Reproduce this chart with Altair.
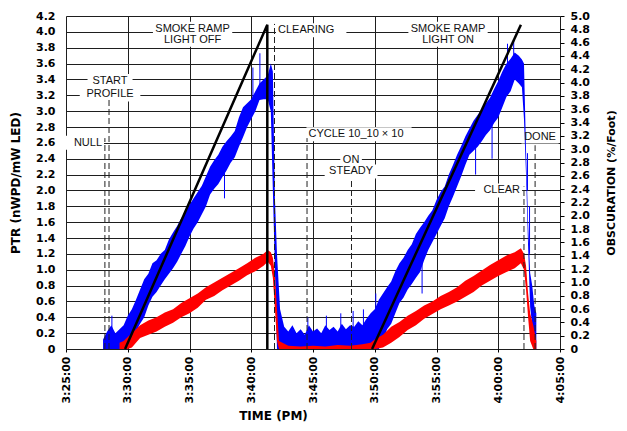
import altair as alt
import pandas as pd

W, H = 494, 333
T0 = 3 * 60 + 25  # minutes of 3:25 PM

def tmin(s):
    h, m, sec = (int(p) for p in s.split(":"))
    return h * 60 + m + sec / 60 - T0

# ---------------- PTR (blue) noisy band: time, low, high ----------------
blue_t = ["3:28:00", "3:28:20", "3:28:40", "3:29:00", "3:29:20", "3:29:40", "3:30:00", "3:30:20",
          "3:30:40", "3:31:00", "3:31:20", "3:31:40", "3:32:00", "3:32:20", "3:32:40", "3:33:00",
          "3:33:20", "3:33:40", "3:34:00", "3:34:20", "3:34:40", "3:35:00", "3:35:20", "3:35:40",
          "3:36:00", "3:36:20", "3:36:40", "3:37:00", "3:37:20", "3:37:40", "3:38:00", "3:38:20",
          "3:38:40", "3:39:00", "3:39:20", "3:39:40", "3:40:00", "3:40:20", "3:40:40", "3:41:00",
          "3:41:20", "3:41:35", "3:41:45", "3:41:55", "3:42:05", "3:42:20", "3:42:40", "3:43:00",
          "3:43:20", "3:43:40", "3:44:00", "3:44:20", "3:44:40", "3:45:00", "3:45:20", "3:45:40",
          "3:46:00", "3:46:20", "3:46:40", "3:47:00", "3:47:20", "3:47:40", "3:48:00", "3:48:20",
          "3:48:40", "3:49:00", "3:49:20", "3:49:40", "3:50:00", "3:50:20", "3:50:40", "3:51:00",
          "3:51:20", "3:51:40", "3:52:00", "3:52:20", "3:52:40", "3:53:00", "3:53:20", "3:53:40",
          "3:54:00", "3:54:20", "3:54:40", "3:55:00", "3:55:20", "3:55:40", "3:56:00", "3:56:20",
          "3:56:40", "3:57:00", "3:57:20", "3:57:40", "3:58:00", "3:58:20", "3:58:40", "3:59:00",
          "3:59:20", "3:59:40", "4:00:00", "4:00:20", "4:00:40", "4:01:00", "4:01:20", "4:01:40",
          "4:01:55", "4:02:05", "4:02:15", "4:02:25", "4:02:35", "4:02:45", "4:02:55", "4:03:05"]
blue_lo = [0.00, 0.00, 0.00, 0.00, 0.00, 0.00, 0.05, 0.15,
           0.22, 0.32, 0.40, 0.55, 0.66, 0.72, 0.80, 0.88,
           0.95, 1.02, 1.10, 1.20, 1.30, 1.42, 1.52, 1.60,
           1.70, 1.80, 1.95, 2.02, 2.08, 2.17, 2.25, 2.35,
           2.42, 2.55, 2.67, 2.80, 2.90, 3.00, 3.14, 3.15,
           3.15, 3.00, 2.00, 1.00, 0.00, 0.00, 0.00, 0.00,
           0.00, 0.00, 0.00, 0.00, 0.00, 0.00, 0.00, 0.00,
           0.00, 0.00, 0.00, 0.00, 0.00, 0.00, 0.00, 0.00,
           0.00, 0.00, 0.00, 0.00, 0.00, 0.00, 0.10, 0.25,
           0.32, 0.45, 0.58, 0.65, 0.75, 0.82, 0.90, 0.97,
           1.12, 1.25, 1.35, 1.45, 1.55, 1.65, 1.80, 1.92,
           2.05, 2.18, 2.32, 2.45, 2.50, 2.55, 2.62, 2.70,
           2.76, 2.85, 2.92, 3.05, 3.18, 3.25, 3.40, 3.35,
           3.30, 2.90, 2.20, 1.30, 0.53, 0.30, 0.00, 0.00]
blue_hi = [0.12, 0.22, 0.30, 0.20, 0.25, 0.30, 0.42, 0.50,
           0.62, 0.75, 0.88, 0.95, 1.08, 1.12, 1.20, 1.25,
           1.38, 1.47, 1.55, 1.65, 1.72, 1.82, 1.90, 1.98,
           2.06, 2.18, 2.30, 2.38, 2.45, 2.55, 2.62, 2.68,
           2.75, 2.92, 3.05, 3.10, 3.15, 3.25, 3.35, 3.40,
           3.45, 3.60, 3.50, 1.90, 1.20, 0.50, 0.28, 0.22,
           0.30, 0.20, 0.25, 0.18, 0.30, 0.22, 0.26, 0.20,
           0.30, 0.24, 0.28, 0.22, 0.32, 0.25, 0.30, 0.28,
           0.35, 0.30, 0.38, 0.45, 0.50, 0.62, 0.70, 0.78,
           0.85, 0.98, 1.08, 1.15, 1.25, 1.32, 1.45, 1.53,
           1.60, 1.68, 1.75, 1.88, 1.98, 2.05, 2.20, 2.32,
           2.45, 2.56, 2.68, 2.78, 2.88, 2.95, 3.02, 3.10,
           3.17, 3.28, 3.38, 3.50, 3.60, 3.66, 3.74, 3.70,
           3.65, 3.60, 2.50, 1.60, 0.96, 0.80, 0.55, 0.45]

# isolated blue spikes / outliers: time, low, high
spike_t = ["3:28:43", "3:37:50", "3:40:08", "3:40:42", "3:44:35", "3:46:05", "3:47:15", "3:48:15",
           "3:49:05", "3:50:05", "3:53:50", "3:58:10", "3:59:30", "4:00:45", "4:01:15", "4:02:22",
           "4:02:32"]
spike_lo = [0.00, 1.90, 3.00, 3.20, 0.00, 0.00, 0.00, 0.00,
            0.00, 0.00, 0.70, 2.20, 2.40, 3.30, 3.50, 2.00,
            1.20]
spike_hi = [0.42, 2.40, 3.55, 3.73, 0.40, 0.42, 0.45, 0.48,
            0.50, 0.70, 1.50, 2.90, 3.10, 3.85, 3.90, 2.47,
            1.80]

# ---------------- red band: time, low, high ----------------
red_t = ["3:29:20", "3:29:40", "3:30:00", "3:30:20", "3:30:40", "3:31:00", "3:31:40", "3:32:20",
         "3:33:00", "3:33:40", "3:34:20", "3:35:00", "3:35:40", "3:36:20", "3:37:00", "3:37:40",
         "3:38:20", "3:39:00", "3:39:40", "3:40:20", "3:41:00", "3:41:20", "3:41:35", "3:41:45",
         "3:41:55", "3:42:05", "3:42:15", "3:43:00", "3:44:00", "3:45:00", "3:46:00", "3:47:00",
         "3:48:00", "3:49:00", "3:49:40", "3:50:00", "3:50:40", "3:51:20", "3:52:00", "3:52:40",
         "3:53:20", "3:54:00", "3:54:40", "3:55:20", "3:56:00", "3:56:40", "3:57:20", "3:58:00",
         "3:58:40", "3:59:20", "4:00:00", "4:00:40", "4:01:20", "4:01:50", "4:02:05", "4:02:15",
         "4:02:25", "4:02:35", "4:02:50", "4:03:05"]
red_lo = [0.00, 0.00, 0.00, 0.02, 0.08, 0.14, 0.18, 0.22,
          0.28, 0.33, 0.40, 0.45, 0.52, 0.62, 0.67, 0.74,
          0.80, 0.86, 0.93, 0.98, 1.05, 1.10, 1.05, 0.90,
          0.50, 0.10, 0.00, 0.00, 0.00, 0.00, 0.00, 0.00,
          0.00, 0.00, 0.00, 0.00, 0.02, 0.08, 0.15, 0.24,
          0.30, 0.38, 0.44, 0.50, 0.55, 0.60, 0.66, 0.72,
          0.80, 0.86, 0.92, 0.97, 1.02, 1.08, 1.00, 0.75,
          0.40, 0.10, 0.00, 0.00]
red_hi = [0.08, 0.10, 0.15, 0.20, 0.25, 0.30, 0.36, 0.40,
          0.46, 0.50, 0.58, 0.64, 0.70, 0.78, 0.84, 0.90,
          0.96, 1.02, 1.08, 1.15, 1.20, 1.25, 1.22, 1.15,
          0.95, 0.50, 0.10, 0.04, 0.03, 0.04, 0.03, 0.05,
          0.04, 0.06, 0.08, 0.12, 0.18, 0.28, 0.34, 0.42,
          0.48, 0.55, 0.60, 0.67, 0.72, 0.78, 0.86, 0.92,
          0.99, 1.06, 1.12, 1.18, 1.22, 1.27, 1.20, 1.05,
          0.70, 0.45, 0.30, 0.10]

# ---------------- smoke ramp obscuration (black, right axis) ----------------
obs_t = ["3:29:47", "3:41:18", "3:41:18", "3:49:47", "4:01:50"]
obs_v = [0.0, 4.87, 0.0, 0.0, 4.87]
obs_seg = ["off", "off", "off", "on", "on"]

# ---------------- event markers (dashed) ----------------
mark_t = ["3:28:09", "3:28:29", "3:41:53", "3:44:31", "3:48:07", "4:02:05", "4:02:59"]
mark_top = [2.66, 3.15, 4.10, 2.66, 2.12, 2.05, 2.57]

# ---------------- annotation labels ----------------
lab_text = ["NULL", "START", "PROFILE", "SMOKE RAMP", "LIGHT OFF", "CLEARING", "CYCLE 10_10 \u00d7 10",
            "ON", "STEADY", "SMOKE RAMP", "LIGHT ON", "CLEAR", "DONE"]
lab_t = ["3:27:55", "3:28:34", "3:28:34", "3:35:15", "3:35:15", "3:42:10", "3:44:38",
         "3:48:05", "3:48:05", "3:55:56", "3:55:56", "4:01:46", "4:03:23"]
lab_v = [2.60, 3.38, 3.21, 4.04, 3.90, 4.02, 2.71, 2.39, 2.24, 4.04, 3.90, 2.00, 2.68]
lab_align = ["right", "center", "center", "center", "center", "left", "left",
             "center", "center", "center", "center", "right", "center"]

# ---------------- frames ----------------
PXM = W / 40.0
PXV = H / 4.2

def text_px(s):
    return sum(7.8 if c.isupper() else 3.1 if c == " " else 6.1 for c in s)

blue_df = pd.DataFrame({"m": [tmin(t) for t in blue_t], "lo": blue_lo, "hi": blue_hi})
spike_df = pd.DataFrame({"m": [tmin(t) for t in spike_t], "lo": spike_lo, "hi": spike_hi})
red_df = pd.DataFrame({"m": [tmin(t) for t in red_t], "lo": red_lo, "hi": red_hi})
obs_df = pd.DataFrame({"m": [tmin(t) for t in obs_t], "v": obs_v, "seg": obs_seg})
mark_df = pd.DataFrame({"m": [tmin(t) for t in mark_t], "lo": [0.0] * len(mark_t), "hi": mark_top})
lab_df = pd.DataFrame({"m": [tmin(t) for t in lab_t], "v": lab_v, "label": lab_text, "al": lab_align})

boxes = []
for s, m, v, al in zip(lab_text, lab_df["m"], lab_v, lab_align):
    w = text_px(s) + 6
    if al == "left":
        a, b = m - 2 / PXM, m + w / PXM
    elif al == "right":
        a, b = m - w / PXM, m + 2 / PXM
    else:
        a, b = m - w / 2 / PXM, m + w / 2 / PXM
    boxes.append({"x1": a, "x2": b, "y1": v - 7 / PXV, "y2": min(v + 7 / PXV, 4.18)})
box_df = pd.DataFrame(boxes)

# ---------------- scales / axes ----------------
FONT_AX = "DejaVu Sans"
xscale = alt.Scale(domain=[0, 40], nice=False, zero=False)
xaxis = alt.Axis(
    values=list(range(0, 41, 5)),
    labelExpr="floor((205 + datum.value) / 60) + ':' + ((205 + datum.value) % 60 < 10 ? '0' : '') + ((205 + datum.value) % 60) + ':00'",
    labelAngle=270, labelFont=FONT_AX, labelFontSize=11, labelFontWeight="bold", labelColor="black",
    labelPadding=4, tickSize=3, tickColor="black", domain=False,
    grid=True, gridColor="#1e1e1e", gridWidth=1, gridOpacity=1,
    title="TIME (PM)", titleFont=FONT_AX, titleFontSize=12, titleFontWeight="bold", titleColor="black",
    titleX=207, titleY=66, titleAlign="center", titleBaseline="middle")
yscale = alt.Scale(domain=[0, 4.2], nice=False, zero=True)
yaxis = alt.Axis(
    values=[round(0.2 * i, 1) for i in range(22)],
    labelExpr="datum.value == 0 ? '0' : format(datum.value, '.1f')",
    labelFont=FONT_AX, labelFontSize=11, labelFontWeight="bold", labelColor="black",
    ticks=False, labelPadding=11, domain=False,
    grid=True, gridColor="#1e1e1e", gridWidth=1, gridOpacity=1,
    title="PTR (nWPD/mW LED)", titleFont=FONT_AX, titleFontSize=12, titleFontWeight="bold",
    titleColor="black", titleAngle=270, titleX=-51, titleY=166.5, titleAlign="center",
    titleBaseline="middle")

def X(f="m"):
    return alt.X(f + ":Q", scale=xscale, axis=xaxis)

def Y(f):
    return alt.Y(f + ":Q", scale=yscale, axis=yaxis)

box_layer = alt.Chart(box_df).mark_rect(color="white", opacity=1).encode(
    x=X("x1"), x2="x2", y=Y("y1"), y2="y2")
blue_area = alt.Chart(blue_df).mark_area(color="#0000ff", opacity=1, interpolate="linear").encode(
    x=X(), y=Y("lo"), y2="hi")
spike_layer = alt.Chart(spike_df).mark_rule(color="#0000ff", strokeWidth=1).encode(
    x=X(), y=Y("lo"), y2="hi")
red_area = alt.Chart(red_df).mark_area(color="#ff0000", opacity=1, interpolate="linear").encode(
    x=X(), y=Y("lo"), y2="hi")
mark_layer = alt.Chart(mark_df).mark_rule(color="#222222", strokeWidth=1, strokeDash=[6, 3]).encode(
    x=X(), y=Y("lo"), y2="hi")

text_layers = []
for al in ["left", "center", "right"]:
    text_layers.append(
        alt.Chart(lab_df[lab_df["al"] == al]).mark_text(
            align=al, baseline="middle", font="Liberation Sans", fontSize=11, color="#111111"
        ).encode(x=X(), y=Y("v"), text="label:N"))

left = alt.layer(box_layer, blue_area, spike_layer, red_area, mark_layer, *text_layers)

right_axis = alt.Axis(
    orient="right", values=[round(0.2 * i, 1) for i in range(26)],
    labelExpr="datum.value == 0 ? '0' : format(datum.value, '.1f')",
    labelFont=FONT_AX, labelFontSize=11, labelFontWeight="bold", labelColor="black",
    tickSize=4, tickColor="black", labelPadding=6, domain=False, grid=False,
    title="OBSCURATION (%/Foot)", titleFont=FONT_AX, titleFontSize=11, titleFontWeight="bold",
    titleColor="black", titleAngle=270, titleX=51, titleY=166.5, titleAlign="center",
    titleBaseline="middle")
obs_layer = alt.Chart(obs_df).mark_line(color="black", strokeWidth=2.5).encode(
    x=X(), y=alt.Y("v:Q", scale=alt.Scale(domain=[0, 5], nice=False), axis=right_axis),
    detail="seg:N")

chart = alt.layer(left, obs_layer).resolve_scale(y="independent").properties(
    width=W, height=H,
    autosize=alt.AutoSizeParams(type="none"),
    padding={"left": 58, "top": 8, "right": 59, "bottom": 74},
).configure_view(stroke="black", strokeWidth=1.5).configure(background="white")

chart.save("out.html", embed_options={"renderer": "svg", "actions": False})
